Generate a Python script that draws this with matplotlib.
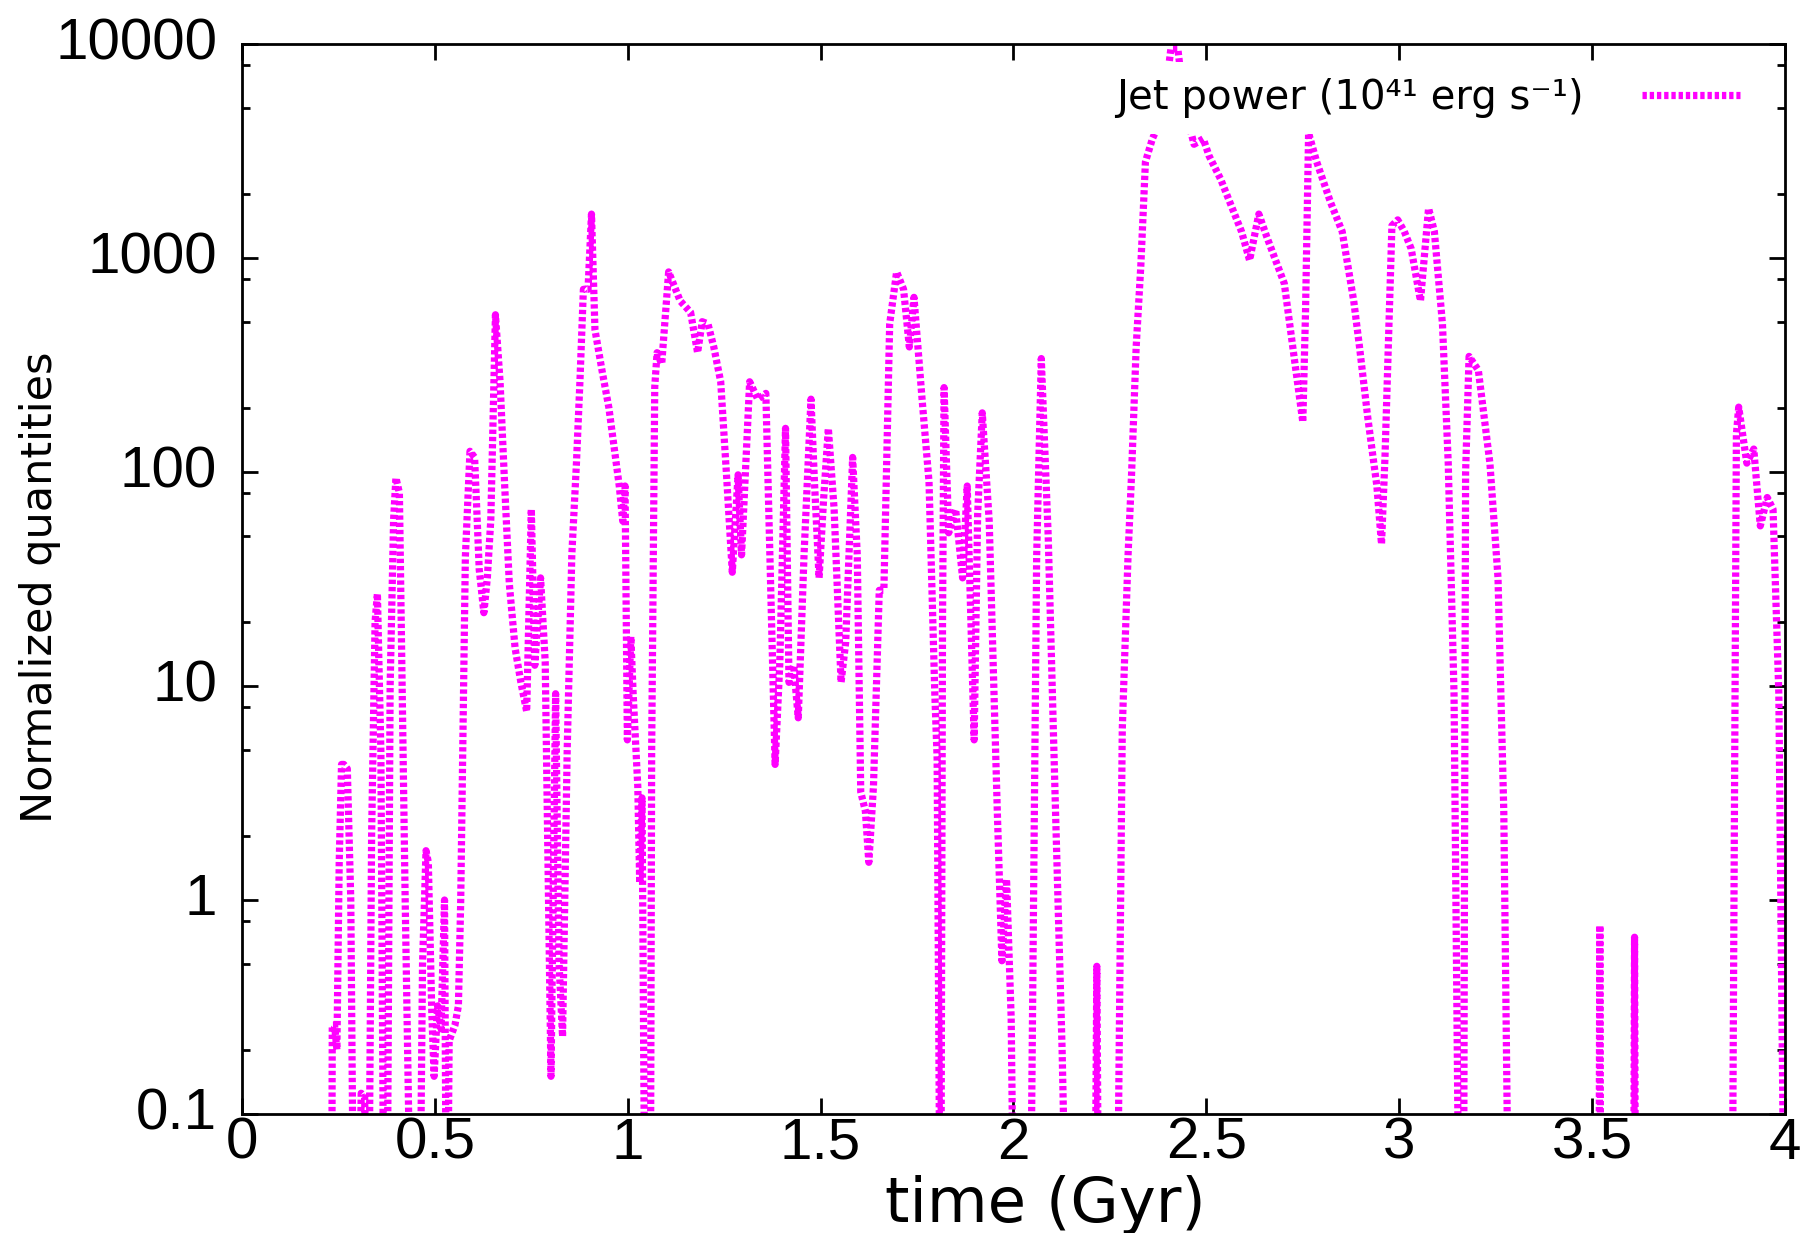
import matplotlib
matplotlib.use('Agg')
import matplotlib.pyplot as plt
from matplotlib.ticker import FixedLocator, FixedFormatter, LogLocator, NullFormatter

# ---- data ----
time_gyr = [
    0.0, 0.232, 0.234, 0.240, 0.246, 0.252, 0.258, 0.264, 0.273, 0.282, 0.291,
    0.300, 0.309, 0.318, 0.327, 0.336, 0.345, 0.351, 0.360, 0.369, 0.375,
    0.384, 0.393, 0.399, 0.408, 0.423, 0.441, 0.459, 0.468, 0.477, 0.483,
    0.492, 0.498, 0.507, 0.516, 0.525, 0.531, 0.537, 0.552, 0.561, 0.567,
    0.579, 0.591, 0.603, 0.615, 0.627, 0.636, 0.645, 0.657, 0.669, 0.681,
    0.693, 0.708, 0.723, 0.738, 0.750, 0.759, 0.774, 0.786, 0.801, 0.813,
    0.822, 0.831, 0.843, 0.855, 0.867, 0.876, 0.885, 0.897, 0.906, 0.915,
    0.933, 0.951, 0.966, 0.978, 0.987, 0.993, 0.999, 1.008, 1.014, 1.026,
    1.031, 1.037, 1.046, 1.058, 1.062, 1.070, 1.076, 1.088, 1.106, 1.136,
    1.163, 1.181, 1.193, 1.208, 1.223, 1.241, 1.256, 1.271, 1.286, 1.295,
    1.316, 1.337, 1.358, 1.370, 1.382, 1.394, 1.409, 1.418, 1.430, 1.442,
    1.457, 1.475, 1.484, 1.496, 1.508, 1.520, 1.535, 1.553, 1.565, 1.583,
    1.595, 1.604, 1.616, 1.625, 1.637, 1.652, 1.664, 1.679, 1.697, 1.715,
    1.730, 1.742, 1.763, 1.781, 1.796, 1.802, 1.811, 1.816, 1.820, 1.832,
    1.850, 1.868, 1.880, 1.898, 1.907, 1.919, 1.937, 1.958, 1.970, 1.982,
    1.994, 2.003, 2.042, 2.060, 2.072, 2.090, 2.108, 2.126, 2.141, 2.210,
    2.216, 2.222, 2.267, 2.282, 2.297, 2.306, 2.318, 2.330, 2.342, 2.360,
    2.387, 2.408, 2.426, 2.444, 2.468, 2.492, 2.507, 2.537, 2.567, 2.591,
    2.612, 2.636, 2.657, 2.702, 2.732, 2.750, 2.757, 2.765, 2.786, 2.822,
    2.852, 2.882, 2.897, 2.918, 2.942, 2.954, 2.963, 2.981, 2.996, 3.013,
    3.031, 3.055, 3.076, 3.091, 3.112, 3.127, 3.142, 3.157, 3.166, 3.172,
    3.181, 3.205, 3.235, 3.256, 3.271, 3.286, 3.517, 3.520, 3.523, 3.607,
    3.610, 3.613, 3.862, 3.874, 3.880, 3.901, 3.919, 3.936, 3.954, 3.969,
    3.984, 4.0,
]
jet_power = [
    0.01, 0.01, 0.26, 0.26, 0.20, 1.5, 4.3, 4.3, 4.1, 1.0, 0.01,
    0.01, 0.125, 0.12, 0.01, 2.0, 20, 27, 5, 0.01, 0.01,
    10, 60, 94, 80, 1.0, 0.01, 0.01, 0.5, 1.7, 1.5,
    0.3, 0.15, 0.32, 0.25, 1.0, 0.01, 0.22, 0.26, 0.32, 1.0,
    40, 125, 117, 35, 22, 32, 60, 543, 264, 86,
    30, 15, 10.4, 7.6, 67, 12.5, 32, 13, 0.15, 9.2,
    0.5, 0.23, 5, 41, 110, 264, 714, 714, 1604, 462,
    300, 200, 125, 86, 59, 86, 5.6, 17, 9.2, 3.4,
    1.2, 3.0, 0.01, 0.01, 5, 250, 361, 319, 861, 630,
    557, 361, 504, 492, 384, 264, 97, 34, 97, 41,
    264, 219, 233, 32, 4.3, 12.5, 160, 10.4, 12.5, 7.1,
    41, 219, 90, 32, 76, 160, 67, 10.4, 16, 117,
    41, 3.2, 2.6, 1.5, 3.4, 28, 28, 492, 861, 714,
    384, 655, 219, 90, 9.2, 4.6, 0.01, 20, 248, 52,
    67, 32, 86, 5.6, 63, 189, 59, 2.6, 0.52, 1.25,
    0.28, 0.01, 0.01, 40, 339, 50, 3, 0.2, 0.01, 0.01,
    0.49, 0.01, 0.01, 6.3, 41, 97, 384, 916, 2813, 3605,
    4624, 9510, 9510, 5000, 3400, 3605, 3000, 2335, 1708, 1331,
    975, 1604, 1250, 760, 300, 171, 557, 3836, 2813, 1818,
    1331, 630, 384, 182, 86, 46, 117, 1416, 1507, 1331,
    1104, 630, 1708, 1331, 492, 110, 9.2, 0.01, 0.01, 100,
    347, 299, 110, 32, 2.6, 0.01, 0.01, 0.76, 0.01, 0.01,
    0.67, 0.01, 0.01, 150, 201, 110, 128, 56, 76, 67,
    9.2, 0.01,
]
series_label = 'Jet power (10\u2074\u00b9 erg s\u207b\u00b9)'

x_ticks = [0, 0.5, 1, 1.5, 2, 2.5, 3, 3.5, 4]
x_tick_labels = ['0', '0.5', '1', '1.5', '2', '2.5', '3', '3.5', '4']
y_ticks = [0.1, 1, 10, 100, 1000, 10000]
y_tick_labels = ['0.1', '1', '10', '100', '1000', '10000']

# ---- figure ----
W, H = 1814, 1233
fig = plt.figure(figsize=(W / 100, H / 100), dpi=100)
fig.patch.set_facecolor('white')
ax = fig.add_axes([242 / W, 1 - 1114 / H, (1785 - 242) / W, (1114 - 44) / H])

ax.plot(time_gyr, jet_power, color='#ff00ff', lw=5.2,
        linestyle=(0, (0.6, 0.4)), dash_capstyle='butt',
        label=series_label)

ax.set_yscale('log')
ax.set_xlim(0, 4)
ax.set_ylim(0.1, 10000)

ax.xaxis.set_major_locator(FixedLocator(x_ticks))
ax.xaxis.set_major_formatter(FixedFormatter(x_tick_labels))
ax.yaxis.set_major_locator(FixedLocator(y_ticks))
ax.yaxis.set_major_formatter(FixedFormatter(y_tick_labels))
ax.yaxis.set_minor_locator(LogLocator(base=10, subs=[2, 5, 8]))
ax.yaxis.set_minor_formatter(NullFormatter())
ax.xaxis.set_minor_locator(FixedLocator([]))

for sp in ax.spines.values():
    sp.set_linewidth(2.0)
ax.tick_params(which='both', direction='in', top=True, right=True, width=2.0)
ax.tick_params(which='major', length=11.5)
ax.tick_params(which='minor', length=6)
ax.tick_params(axis='x', which='major', pad=2)
ax.tick_params(axis='y', which='major', pad=18)
for lab in ax.get_xticklabels() + ax.get_yticklabels():
    lab.set_fontfamily('Liberation Sans')
    lab.set_fontsize(42)
for lab in ax.get_yticklabels():
    lab.set_verticalalignment('center')

fig.text(1045 / W, 1 - 1222 / H, 'time (Gyr)', ha='center', va='baseline',
         fontsize=45, family='DejaVu Sans')
fig.text(40.5 / W, 1 - 587 / H, 'Normalized quantities', rotation=90,
         ha='center', va='center', fontsize=31, family='DejaVu Sans')

leg = ax.legend(loc='upper right', bbox_to_anchor=(1756 / W, 1 - 62 / H),
                bbox_transform=fig.transFigure, markerfirst=False,
                handlelength=2.43, handletextpad=1.45, borderpad=0.4,
                borderaxespad=0, frameon=True, fancybox=False, framealpha=1,
                facecolor='white', edgecolor='none',
                prop={'family': 'DejaVu Sans', 'size': 29})

fig.savefig('out.png', dpi=100, facecolor='white')
